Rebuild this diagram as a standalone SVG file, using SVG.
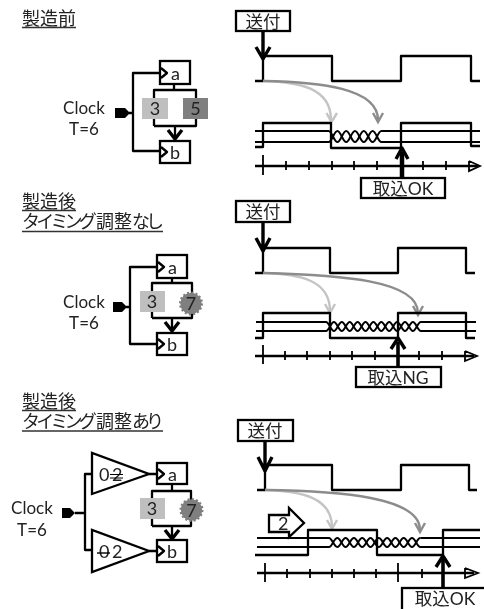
<svg xmlns="http://www.w3.org/2000/svg" width="484" height="609" viewBox="0 0 484 609">
<style>
text{font-family:"Lato","Noto Sans CJK JP",sans-serif;fill:#222;font-size:18px}
.m{text-anchor:middle}
.b{font-size:17.500px}
.c{font-size:17px}
.s{fill:none;stroke:#000;stroke-width:2.300;stroke-linejoin:round}
.h{fill:none;stroke:#000;stroke-width:3.400;stroke-linejoin:round}
.x{fill:none;stroke:#000;stroke-width:2;stroke-linejoin:round}
.t{fill:none;stroke:#000;stroke-width:1.800}
.lg{fill:none;stroke:#c4c4c4;stroke-width:2.400}
.dg{fill:none;stroke:#8c8c8c;stroke-width:2.400}
.w{fill:#fff;stroke:#000;stroke-width:2.300}
.u{stroke:#333;stroke-width:1.400}
.k{fill:#000}
.g3{fill:#bfbfbf}
.g5{fill:#7f7f7f}
.star{fill:#7f7f7f;stroke:#7f7f7f;stroke-width:3;stroke-dasharray:2 2.120}
</style>
<defs>
<filter id="soft" x="0" y="0" width="100%" height="100%"><feGaussianBlur stdDeviation="0.45"/></filter>
</defs>
<rect width="484" height="609" fill="#fff"/>
<g filter="url(#soft)">
<g id="title1"><text x="22" y="25">製造前</text><line class="u" x1="22" y1="27.500" x2="76" y2="27.500"/></g>
<g id="title2"><text x="22" y="208">製造後</text><line class="u" x1="22" y1="210.500" x2="76" y2="210.500"/><text x="22" y="228"><tspan letter-spacing="-3.800">タイミング</tspan><tspan dx="3">調整</tspan><tspan letter-spacing="-4">なし</tspan></text><line class="u" x1="22" y1="231.500" x2="163" y2="231.500"/></g>
<g id="title3"><text x="22" y="408">製造後</text><line class="u" x1="22" y1="410.500" x2="76" y2="410.500"/><text x="22" y="428"><tspan letter-spacing="-3.800">タイミング</tspan><tspan dx="3">調整</tspan><tspan letter-spacing="-4">あり</tspan></text><line class="u" x1="22" y1="431" x2="163" y2="431"/></g>

<g id="connectors">
<path class="s" d="M129 113H133M160 73H133V151H160M174 84V90M154 126V90H196V126H154M175 126V139"/>
<path class="h" d="M168 130L175 139L182 130"/>
<path class="s" d="M126 307H130M157 267H130V344H157M172 278V283M152 318V283H192V318H152M172 318V331"/>
<path class="h" d="M165 322L172 331L179 322"/>
<path class="s" d="M75 513H85M92 474H85V550H92M149 474H160M149 551H160M172 484V491M152 526V491H191V526H152M172 526V539"/>
<path class="h" d="M165 530L172 539L179 530"/>

<path class="s" d="M255 81H263V56H332V81H401V56H471V81H480"/>
<path class="lg" d="M263 81C300 82 331 88 331 120M326.500 113L331.500 122L337 113"/>
<path class="dg" d="M263 81C320 82 378 88 378 120M373 113L378 122L383 113"/>
<path class="h" d="M263 31V58M256 47L263 59L270 47"/>
<path class="s" d="M255 147H263V123H331V148H401V123H471V146H480"/>
<path class="x" d="M255 131H328.600c3.500 0 5.300 11 8.800 11s5.300-11 8.800-11s5.300 11 8.800 11s5.300-11 8.800-11s5.300 11 8.800 11s5.300-11 8.800-11H480"/>
<path class="x" d="M255 142H328.600c3.500 0 5.300-11 8.800-11s5.300 11 8.800 11s5.300-11 8.800-11s5.300 11 8.800 11s5.300-11 8.800-11s5.300 11 8.800 11H480"/>
<path class="s" d="M255 166H478"/>
<path class="t" d="M263 155V175M286 161V170M309 161V170M332 161V170M354 161V170M377 161V170M423 161V170M446 161V170M469 161V171L480 166L469 161"/>
<path class="s" style="stroke-width:4.500" d="M402 178V152"/>
<path class="h" d="M396 159L402 148L408 159"/>

<path class="s" d="M255 273H263V248H330V273H398V248H466V273H475"/>
<path class="lg" d="M263 273C300 274 330 280 330 311M325 304L330 313L335 304"/>
<path class="dg" d="M263 273C340 275 418 280 418 313M413 306L418 315L423 306"/>
<path class="h" d="M263 222V250M256 238L263 251L270 238"/>
<path class="s" d="M255 338H263V313H330V338H398V313H466V338H475"/>
<path class="x" d="M256 322H326c3 0 5 9 7.900 9s5-9 7.900-9s5 9 7.900 9s5-9 7.900-9s5 9 7.900 9s5-9 7.900-9s5 9 7.900 9s5-9 7.900-9s5 9 7.900 9s5-9 7.900-9s5 9 7.900 9s5-9 7.900-9H476"/>
<path class="x" d="M256 331H326c3 0 5-9 7.900-9s5 9 7.900 9s5-9 7.900-9s5 9 7.900 9s5-9 7.900-9s5 9 7.900 9s5-9 7.900-9s5 9 7.900 9s5-9 7.900-9s5 9 7.900 9s5-9 7.900-9s5 9 7.900 9H476"/>
<path class="s" d="M255 356H474"/>
<path class="t" d="M263 345V364M285 351V360M307 351V360M330 351V360M352 351V360M375 351V360M419 351V360M442 351V360M465 351V361L477 356L465 351"/>
<path class="s" style="stroke-width:3.600" d="M398 367V342"/>
<path class="h" d="M391 349L398 338L405 349"/>

<path class="s" d="M257 490H265V465H332V490H401V465H469V490H477"/>
<path class="lg" d="M265 490C300 491 332 497 332 527M327 520L332 529L337 520"/>
<path class="dg" d="M265 490C340 491 420 497 420 530M415 523L420 532L425 523"/>
<path class="h" d="M265 442V470M258 457L265 471L272 457"/>
<path class="s" d="M255 555H308V530H377V555H443V530H480"/>
<path class="x" d="M257 538H329c3 0 5 9 8.300 9s5-9 8.300-9s5 9 8.300 9s5-9 8.300-9s5 9 8.300 9s5-9 8.300-9s5 9 8.300 9s5-9 8.300-9s5 9 8.300 9s5-9 8.300-9s5 9 8.300 9H480"/>
<path class="x" d="M257 547H329c3 0 5-9 8.300-9s5 9 8.300 9s5-9 8.300-9s5 9 8.300 9s5-9 8.300-9s5 9 8.300 9s5-9 8.300-9s5 9 8.300 9s5-9 8.300-9s5 9 8.300 9s5-9 8.300-9"/>
<path class="x" d="M420.300 538H480"/>
<path class="s" d="M257 573H474"/>
<path class="t" d="M265 563V582M287 569V578M310 569V578M332 569V578M354 569V578M376 569V578M398 563V582M422 569V578M465 568V578L478 573L465 568"/>
<path class="s" style="stroke-width:3.600" d="M443 588V559"/>
<path class="h" d="M436 567L443 556L450 567"/>
</g>

<g id="clockA"><text class="m c" x="84" y="114">Clock</text><text class="m c" x="84" y="135">T=6</text><path class="k" d="M115 108H125L130 113L125 118H115Z"/></g>
<g id="ffA1"><rect class="w" x="160" y="61" width="30" height="23"/><path class="s" d="M161 68L167 73L161 78"/><text x="171" y="80">a</text></g>
<g id="ffB1"><rect class="w" x="160" y="141" width="30" height="22"/><path class="s" d="M161 147L167 152L161 157"/><text x="170" y="159">b</text></g>
<g id="d3a"><rect class="g3" x="142" y="98" width="26" height="21"/><text class="m" x="155" y="115">3</text></g>
<g id="d5"><rect class="g5" x="183" y="98" width="25" height="21"/><text class="m" x="195.500" y="115">5</text></g>

<g id="clockB"><text class="m c" x="84" y="308">Clock</text><text class="m c" x="84" y="329">T=6</text><path class="k" d="M113 302H122L127 307L122 312H113Z"/></g>
<g id="ffA2"><rect class="w" x="157" y="255" width="30" height="23"/><path class="s" d="M158 262L164 267L158 272"/><text x="168" y="274">a</text></g>
<g id="ffB2"><rect class="w" x="157" y="333" width="30" height="22"/><path class="s" d="M158 339L164 344L158 349"/><text x="167" y="351">b</text></g>
<g id="d3b"><rect class="g3" x="140" y="291" width="25" height="21"/><text class="m" x="152" y="308">3</text></g>
<g id="d7a"><circle class="star" cx="191" cy="303.500" r="10.500"/><circle class="g5" cx="191" cy="303.500" r="10.500"/><text class="m" x="191" y="310">7</text></g>

<g id="clockC"><text class="m c" x="32" y="514">Clock</text><text class="m c" x="32" y="536">T=6</text><path class="k" d="M62 508H70L75 513L70 518H62Z"/></g>
<g id="buf1"><polygon class="w" points="92,453 92,494 149,474"/><text x="99" y="481">0</text><text x="112" y="481">2</text><path d="M110 474.500H123M110 478H123" stroke="#000" stroke-width="1.200"/></g>
<g id="buf2"><polygon class="w" points="92,530 92,572 149,551"/><text x="99" y="558">0</text><text x="112" y="558">2</text><path d="M97 553H110" stroke="#000" stroke-width="1.400"/></g>
<g id="ffA3"><rect class="w" x="157" y="463" width="30" height="21"/><path class="s" d="M158 469L164 474L158 479"/><text x="168" y="481">a</text></g>
<g id="ffB3"><rect class="w" x="157" y="540" width="30" height="22"/><path class="s" d="M158 546L164 551L158 556"/><text x="167" y="558">b</text></g>
<g id="d3c"><rect class="g3" x="140" y="498" width="25" height="21"/><text class="m" x="152" y="515">3</text></g>
<g id="d7b"><circle class="star" cx="191.500" cy="510" r="10.500"/><circle class="g5" cx="191.500" cy="510" r="10.500"/><text class="m" x="191.500" y="516.500">7</text></g>

<g id="send1"><rect class="w" x="236" y="11" width="54" height="20"/><text class="m b" x="263" y="27.500">送付</text></g>
<g id="send2"><rect class="w" x="236" y="201" width="54" height="21"/><text class="m b" x="263" y="218">送付</text></g>
<g id="send3"><rect class="w" x="238" y="420" width="55" height="21"/><text class="m b" x="265" y="437">送付</text></g>
<g id="take1"><rect class="w" x="361" y="178" width="84" height="20"/><text class="m b" x="403" y="195">取込OK</text></g>
<g id="take2"><rect class="w" x="356" y="367" width="85" height="20"/><text class="m b" x="398" y="384">取込NG</text></g>
<g id="take3"><rect class="w" x="402" y="588" width="100" height="30"/><text class="m b" x="445" y="605">取込OK</text></g>
<g id="shift"><polygon class="w" points="269,515 289,515 289,508 304,523 289,537 289,532 269,532"/><text x="278" y="530">2</text></g>
</g>
</svg>
